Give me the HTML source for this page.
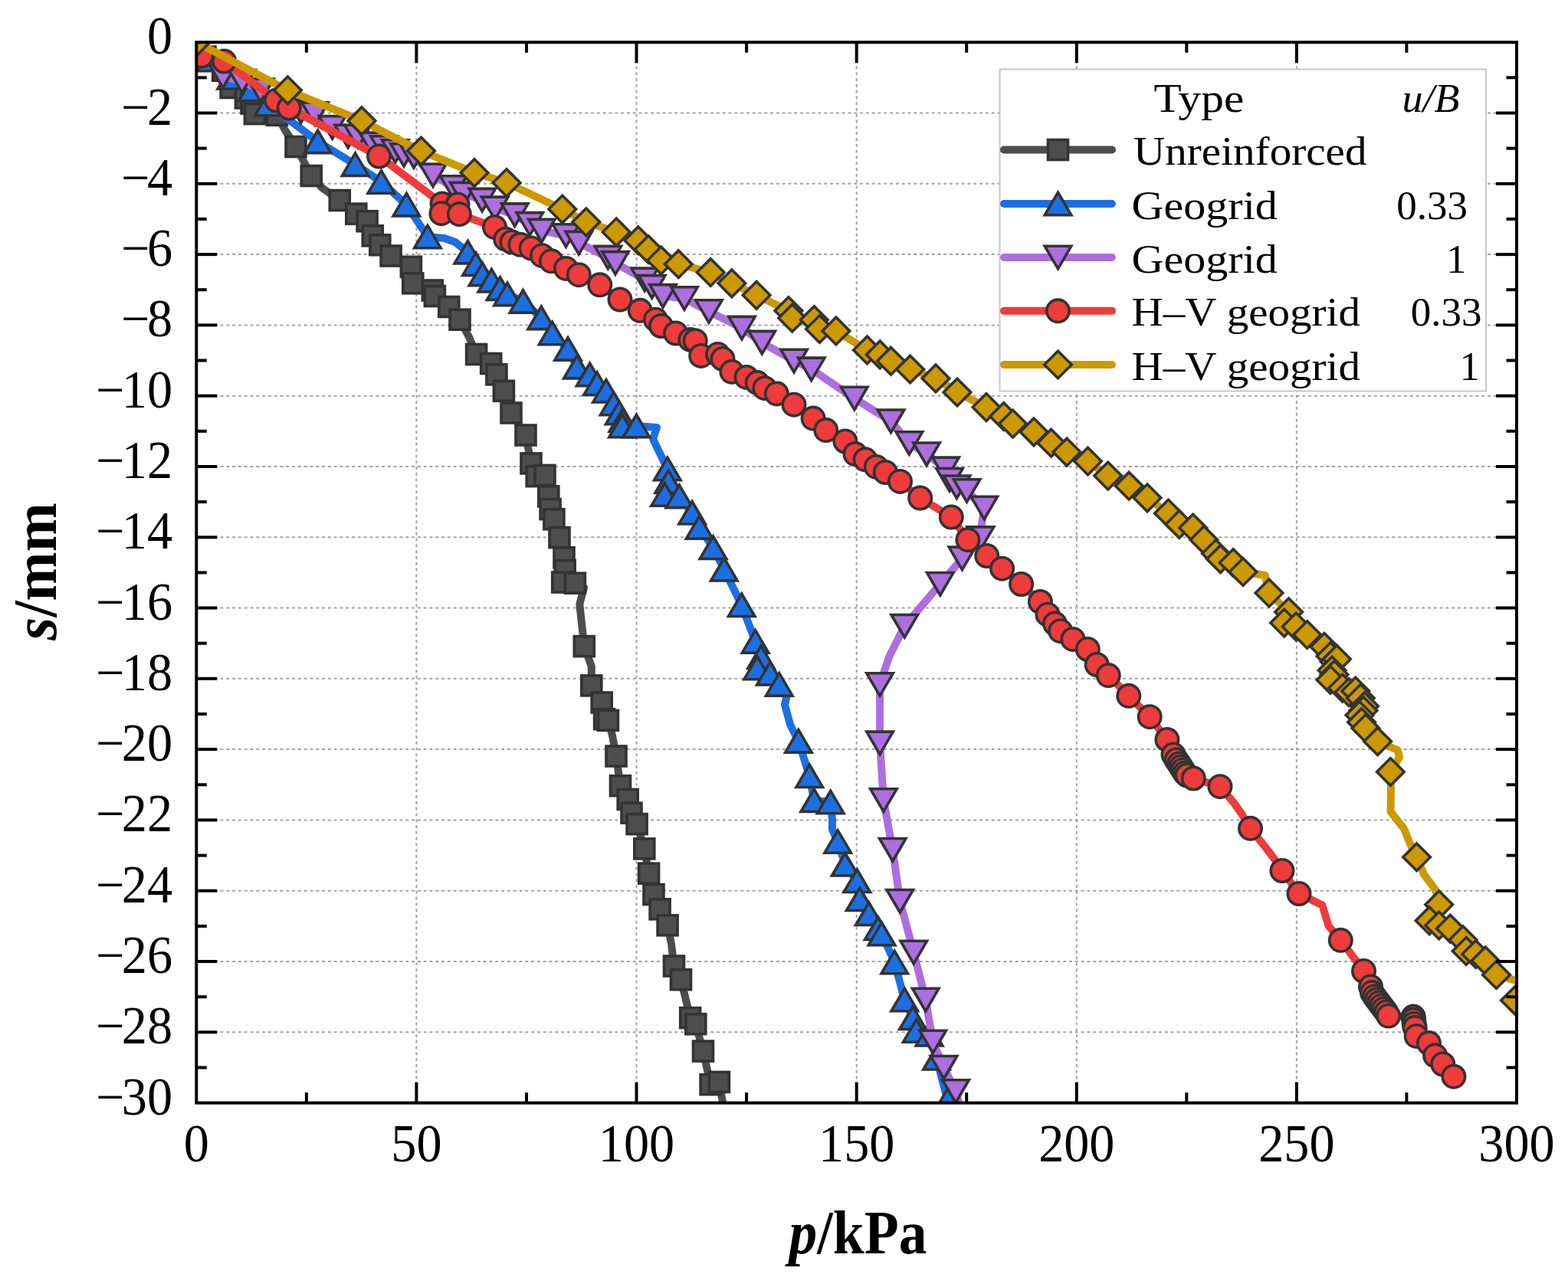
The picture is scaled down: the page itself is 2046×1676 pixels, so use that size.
<!DOCTYPE html><html><head><meta charset="utf-8"><style>html,body{margin:0;padding:0;background:#fff;overflow:hidden;}svg{display:block;}text{font-family:"Liberation Serif","DejaVu Serif",serif;fill:#000;}</style></head><body>
<svg width="2046" height="1676" viewBox="0 0 2046 1676">
<rect width="2046" height="1676" fill="#fff"/>
<defs><clipPath id="pc"><rect x="256.3" y="55.2" width="1722.7" height="1384.4"/></clipPath></defs>
<g stroke="#a2a2a2" stroke-width="2" fill="none">
<line x1="543.4" y1="55.2" x2="543.4" y2="1439.6" stroke-dasharray="3.9 3.9"/>
<line x1="830.5" y1="55.2" x2="830.5" y2="1439.6" stroke-dasharray="3.9 3.9"/>
<line x1="1117.7" y1="55.2" x2="1117.7" y2="1439.6" stroke-dasharray="3.9 3.9"/>
<line x1="1404.8" y1="55.2" x2="1404.8" y2="1439.6" stroke-dasharray="3.9 3.9"/>
<line x1="1691.9" y1="55.2" x2="1691.9" y2="1439.6" stroke-dasharray="3.9 3.9"/>
<line x1="256.3" y1="147.5" x2="1979" y2="147.5" stroke-dasharray="3.9 3.9"/>
<line x1="256.3" y1="239.8" x2="1979" y2="239.8" stroke-dasharray="3.9 3.9"/>
<line x1="256.3" y1="332.1" x2="1979" y2="332.1" stroke-dasharray="3.9 3.9"/>
<line x1="256.3" y1="424.4" x2="1979" y2="424.4" stroke-dasharray="3.9 3.9"/>
<line x1="256.3" y1="516.7" x2="1979" y2="516.7" stroke-dasharray="3.9 3.9"/>
<line x1="256.3" y1="609" x2="1979" y2="609" stroke-dasharray="3.9 3.9"/>
<line x1="256.3" y1="701.3" x2="1979" y2="701.3" stroke-dasharray="3.9 3.9"/>
<line x1="256.3" y1="793.5" x2="1979" y2="793.5" stroke-dasharray="3.9 3.9"/>
<line x1="256.3" y1="885.8" x2="1979" y2="885.8" stroke-dasharray="3.9 3.9"/>
<line x1="256.3" y1="978.1" x2="1979" y2="978.1" stroke-dasharray="3.9 3.9"/>
<line x1="256.3" y1="1070.4" x2="1979" y2="1070.4" stroke-dasharray="3.9 3.9"/>
<line x1="256.3" y1="1162.7" x2="1979" y2="1162.7" stroke-dasharray="3.9 3.9"/>
<line x1="256.3" y1="1255" x2="1979" y2="1255" stroke-dasharray="3.9 3.9"/>
<line x1="256.3" y1="1347.3" x2="1979" y2="1347.3" stroke-dasharray="3.9 3.9"/>
</g>
<g clip-path="url(#pc)">
<g>
<polyline points="256.3,55 268,74 290.8,92.2 301.1,114.5 320.4,128 328,135 332.4,148.6 361.5,150.3 372,170 386,191.5 406.3,229.5 420,245 443.3,261.5 464.8,279.1 479.1,288.7 486.3,307.8 495.8,319.7 510.1,334 536.4,348.3 538.8,369.8 564.3,379 567.4,386.5 585.8,400.5 600,417.2 612,440 621.6,462.5 640.7,474.5 647.9,488.8 657.4,510.3 667,539 686,568 693,604.9 700.2,621.6 711,620.4 715.8,647.9 718.1,664.6 722.9,677.7 730,701.6 736,727.8 737.2,744.5 733.7,760 750.4,761.2 762,767 756.3,788.7 762.3,843.6 771.8,869.8 771.8,894.9 785.2,917 788.6,938.7 793.4,940.3 799,960 804,987 809.5,1025.7 819.2,1043.4 824,1061.1 831.1,1075.6 840.8,1107.9 846.6,1140.1 853,1167.5 861.1,1186.8 871.1,1207.8 876,1232 879.5,1261 888.5,1278.7 895,1305 900.7,1328.6 907.8,1336.7 917.5,1372.1 927.1,1415.6 938.4,1412.4 945,1450" fill="none" stroke="#4d4d4d" stroke-width="10" stroke-linejoin="round" stroke-linecap="round"/>
<g fill="#4d4d4d" stroke="#333333" stroke-width="3.6" stroke-linejoin="miter">
<rect x="243.3" y="42" width="26" height="26"/>
<rect x="255" y="61" width="26" height="26"/>
<rect x="277.8" y="79.2" width="26" height="26"/>
<rect x="288.1" y="101.5" width="26" height="26"/>
<rect x="307.4" y="115" width="26" height="26"/>
<rect x="315" y="122" width="26" height="26"/>
<rect x="319.4" y="135.6" width="26" height="26"/>
<rect x="348.5" y="137.3" width="26" height="26"/>
<rect x="373" y="178.5" width="26" height="26"/>
<rect x="393.3" y="216.5" width="26" height="26"/>
<rect x="430.3" y="248.5" width="26" height="26"/>
<rect x="451.8" y="266.1" width="26" height="26"/>
<rect x="466.1" y="275.7" width="26" height="26"/>
<rect x="473.3" y="294.8" width="26" height="26"/>
<rect x="482.8" y="306.7" width="26" height="26"/>
<rect x="497.1" y="321" width="26" height="26"/>
<rect x="523.4" y="335.3" width="26" height="26"/>
<rect x="525.8" y="356.8" width="26" height="26"/>
<rect x="551.3" y="366" width="26" height="26"/>
<rect x="554.4" y="373.5" width="26" height="26"/>
<rect x="572.8" y="387.5" width="26" height="26"/>
<rect x="587" y="404.2" width="26" height="26"/>
<rect x="608.6" y="449.5" width="26" height="26"/>
<rect x="627.7" y="461.5" width="26" height="26"/>
<rect x="634.9" y="475.8" width="26" height="26"/>
<rect x="644.4" y="497.3" width="26" height="26"/>
<rect x="654" y="526" width="26" height="26"/>
<rect x="673" y="555" width="26" height="26"/>
<rect x="680" y="591.9" width="26" height="26"/>
<rect x="687.2" y="608.6" width="26" height="26"/>
<rect x="698" y="607.4" width="26" height="26"/>
<rect x="702.8" y="634.9" width="26" height="26"/>
<rect x="705.1" y="651.6" width="26" height="26"/>
<rect x="709.9" y="664.7" width="26" height="26"/>
<rect x="717" y="688.6" width="26" height="26"/>
<rect x="723" y="714.8" width="26" height="26"/>
<rect x="724.2" y="731.5" width="26" height="26"/>
<rect x="720.7" y="747" width="26" height="26"/>
<rect x="737.4" y="748.2" width="26" height="26"/>
<rect x="749.3" y="830.6" width="26" height="26"/>
<rect x="758.8" y="881.9" width="26" height="26"/>
<rect x="772.2" y="904" width="26" height="26"/>
<rect x="775.6" y="925.7" width="26" height="26"/>
<rect x="780.4" y="927.3" width="26" height="26"/>
<rect x="791" y="974" width="26" height="26"/>
<rect x="796.5" y="1012.7" width="26" height="26"/>
<rect x="806.2" y="1030.4" width="26" height="26"/>
<rect x="811" y="1048.1" width="26" height="26"/>
<rect x="818.1" y="1062.6" width="26" height="26"/>
<rect x="827.8" y="1094.9" width="26" height="26"/>
<rect x="833.6" y="1127.1" width="26" height="26"/>
<rect x="840" y="1154.5" width="26" height="26"/>
<rect x="848.1" y="1173.8" width="26" height="26"/>
<rect x="858.1" y="1194.8" width="26" height="26"/>
<rect x="866.5" y="1248" width="26" height="26"/>
<rect x="875.5" y="1265.7" width="26" height="26"/>
<rect x="887.7" y="1315.6" width="26" height="26"/>
<rect x="894.8" y="1323.7" width="26" height="26"/>
<rect x="904.5" y="1359.1" width="26" height="26"/>
<rect x="914.1" y="1402.6" width="26" height="26"/>
<rect x="925.4" y="1399.4" width="26" height="26"/>
</g></g>
<g>
<polyline points="256.3,55 275,78 301.3,101.3 328.8,116.8 350.2,136 414.7,184.8 463.6,214.7 497.5,237.4 530.4,267.2 557.9,309 580,311 594,316 610.4,329.2 621,344.7 629.5,357.9 641.4,366.2 652.6,376.6 662,383.8 682.5,393.3 706.3,414.8 720.6,435 741,455.4 752.9,479.2 769.6,488.8 779,500.7 791,510.3 800.6,527 807.8,539 812.5,548.5 812,556 830.4,556 857,558 852,573 870.9,612 872.1,628.8 867.3,645.5 886.4,647.9 903.1,669.3 912.6,688.4 930.5,714.7 944.9,743.3 967.7,789.7 985.6,837.4 993,857.6 988.2,872 1004.9,879.1 1016.8,893.4 1026.4,910 1024,919.7 1031.1,946 1041.9,967.4 1056.2,1012.8 1062.2,1044.8 1083.7,1047 1086,1070 1086,1083 1093.2,1098.5 1102.7,1128.3 1118.3,1149.8 1121.8,1173.7 1133.8,1192.7 1145.7,1211.8 1150.5,1219 1167.2,1256 1180.3,1305 1191,1328.8 1195.8,1345.5 1212.5,1350.3 1222,1381.3 1236.4,1436 1242,1450" fill="none" stroke="#1c6fe3" stroke-width="10" stroke-linejoin="round" stroke-linecap="round"/>
<g fill="#1c6fe3" stroke="#333333" stroke-width="3.6" stroke-linejoin="miter">
<path d="M256.3 40.2L273.6 69.8L239.1 69.8Z"/>
<path d="M275 63.2L292.2 92.8L257.8 92.8Z"/>
<path d="M301.3 86.5L318.6 116L284.1 116Z"/>
<path d="M328.8 102L346.1 131.6L311.6 131.6Z"/>
<path d="M350.2 121.2L367.4 150.8L332.9 150.8Z"/>
<path d="M414.7 170.1L431.9 199.6L397.4 199.6Z"/>
<path d="M463.6 199.9L480.9 229.4L446.4 229.4Z"/>
<path d="M497.5 222.7L514.8 252.2L480.2 252.2Z"/>
<path d="M530.4 252.4L547.6 281.9L513.1 281.9Z"/>
<path d="M557.9 294.2L575.1 323.8L540.6 323.8Z"/>
<path d="M610.4 314.4L627.6 343.9L593.1 343.9Z"/>
<path d="M621 329.9L638.2 359.4L603.8 359.4Z"/>
<path d="M629.5 343.1L646.8 372.6L612.2 372.6Z"/>
<path d="M641.4 351.4L658.6 380.9L624.1 380.9Z"/>
<path d="M652.6 361.9L669.9 391.4L635.4 391.4Z"/>
<path d="M662 369.1L679.2 398.6L644.8 398.6Z"/>
<path d="M682.5 378.6L699.8 408.1L665.2 408.1Z"/>
<path d="M706.3 400.1L723.5 429.6L689 429.6Z"/>
<path d="M720.6 420.2L737.9 449.8L703.4 449.8Z"/>
<path d="M741 440.6L758.2 470.1L723.8 470.1Z"/>
<path d="M752.9 464.4L770.1 493.9L735.6 493.9Z"/>
<path d="M769.6 474.1L786.9 503.6L752.4 503.6Z"/>
<path d="M779 485.9L796.2 515.5L761.8 515.5Z"/>
<path d="M791 495.6L808.2 525L773.8 525Z"/>
<path d="M800.6 512.2L817.9 541.8L783.4 541.8Z"/>
<path d="M807.8 524.2L825 553.8L790.5 553.8Z"/>
<path d="M812.5 533.8L829.8 563.2L795.2 563.2Z"/>
<path d="M812 541.2L829.2 570.8L794.8 570.8Z"/>
<path d="M830.4 541.2L847.6 570.8L813.1 570.8Z"/>
<path d="M870.9 597.2L888.1 626.8L853.6 626.8Z"/>
<path d="M872.1 614L889.4 643.5L854.9 643.5Z"/>
<path d="M867.3 630.8L884.5 660.2L850 660.2Z"/>
<path d="M886.4 633.1L903.6 662.6L869.1 662.6Z"/>
<path d="M903.1 654.5L920.4 684L885.9 684Z"/>
<path d="M912.6 673.6L929.9 703.1L895.4 703.1Z"/>
<path d="M930.5 700L947.8 729.5L913.2 729.5Z"/>
<path d="M944.9 728.5L962.1 758L927.6 758Z"/>
<path d="M967.7 775L985 804.5L950.5 804.5Z"/>
<path d="M985.6 822.6L1002.9 852.1L968.4 852.1Z"/>
<path d="M993 842.9L1010.2 872.4L975.8 872.4Z"/>
<path d="M988.2 857.2L1005.5 886.8L971 886.8Z"/>
<path d="M1004.9 864.4L1022.1 893.9L987.6 893.9Z"/>
<path d="M1016.8 878.6L1034 908.1L999.5 908.1Z"/>
<path d="M1041.9 952.6L1059.2 982.1L1024.7 982.1Z"/>
<path d="M1056.2 998L1073.5 1027.5L1039 1027.5Z"/>
<path d="M1062.2 1030L1079.5 1059.5L1045 1059.5Z"/>
<path d="M1083.7 1032.2L1101 1061.8L1066.5 1061.8Z"/>
<path d="M1093.2 1083.8L1110.5 1113.2L1076 1113.2Z"/>
<path d="M1102.7 1113.5L1120 1143L1085.5 1143Z"/>
<path d="M1118.3 1135L1135.5 1164.5L1101 1164.5Z"/>
<path d="M1121.8 1159L1139 1188.5L1104.5 1188.5Z"/>
<path d="M1133.8 1178L1151 1207.5L1116.5 1207.5Z"/>
<path d="M1145.7 1197L1163 1226.5L1128.5 1226.5Z"/>
<path d="M1150.5 1204.2L1167.8 1233.8L1133.2 1233.8Z"/>
<path d="M1167.2 1241.2L1184.5 1270.8L1150 1270.8Z"/>
<path d="M1180.3 1290.2L1197.5 1319.8L1163 1319.8Z"/>
<path d="M1191 1314L1208.2 1343.5L1173.8 1343.5Z"/>
<path d="M1195.8 1330.8L1213 1360.2L1178.5 1360.2Z"/>
<path d="M1212.5 1335.5L1229.8 1365L1195.2 1365Z"/>
<path d="M1222 1366.5L1239.2 1396L1204.8 1396Z"/>
<path d="M1236.4 1421.2L1253.7 1450.8L1219.2 1450.8Z"/>
</g></g>
<g>
<polyline points="256.3,55 290.8,99.8 315.9,106 340,117.7 392.6,145.7 411,148.7 433.6,166.3 454.1,178 466.9,178 486.4,187.8 501,192.6 515.7,197.5 527,202.4 540,204.5 565,228.8 591.6,244.4 604.8,253.2 629.2,261.1 645.8,271.8 671.7,280.6 691.3,292.3 706.9,301.1 738.5,307.5 755.3,317.1 793.4,336.2 803,343.3 841.2,364.8 850.7,374.3 865,386.3 893,389.5 925,406.5 968,428.1 994.3,447.2 1036,471 1058.7,481.8 1114.8,520 1162.5,549.8 1186.4,578.5 1209,592.8 1234.1,611.9 1239,626.2 1248.4,635.7 1261.6,640.5 1284.2,663 1281,684.5 1279.4,702.6 1255.5,728.9 1226.8,762.3 1180.3,817.2 1160,857.5 1148.1,893.5 1148.1,969.9 1152.9,1044.5 1164.8,1109.3 1174.3,1176.2 1192.2,1243 1207.8,1305 1217.3,1359.9 1231.6,1393.3 1247.1,1424.4 1256,1454.5" fill="none" stroke="#ad6ee0" stroke-width="10" stroke-linejoin="round" stroke-linecap="round"/>
<g fill="#ad6ee0" stroke="#333333" stroke-width="3.6" stroke-linejoin="miter">
<path d="M256.3 69.8L273.6 40.2L239.1 40.2Z"/>
<path d="M290.8 114.5L308.1 85L273.6 85Z"/>
<path d="M315.9 120.8L333.1 91.2L298.6 91.2Z"/>
<path d="M340 132.4L357.2 103L322.8 103Z"/>
<path d="M392.6 160.4L409.9 130.9L375.4 130.9Z"/>
<path d="M411 163.4L428.2 133.9L393.8 133.9Z"/>
<path d="M433.6 181.1L450.9 151.6L416.4 151.6Z"/>
<path d="M454.1 192.8L471.4 163.2L436.9 163.2Z"/>
<path d="M466.9 192.8L484.1 163.2L449.6 163.2Z"/>
<path d="M486.4 202.6L503.6 173.1L469.1 173.1Z"/>
<path d="M501 207.3L518.2 177.8L483.8 177.8Z"/>
<path d="M515.7 212.2L533 182.8L498.5 182.8Z"/>
<path d="M527 217.2L544.2 187.7L509.8 187.7Z"/>
<path d="M540 219.2L557.2 189.8L522.8 189.8Z"/>
<path d="M565 243.6L582.2 214.1L547.8 214.1Z"/>
<path d="M591.6 259.1L608.9 229.7L574.4 229.7Z"/>
<path d="M604.8 267.9L622 238.4L587.5 238.4Z"/>
<path d="M629.2 275.9L646.5 246.4L612 246.4Z"/>
<path d="M645.8 286.6L663 257.1L628.5 257.1Z"/>
<path d="M671.7 295.4L689 265.9L654.5 265.9Z"/>
<path d="M691.3 307.1L708.5 277.6L674 277.6Z"/>
<path d="M706.9 315.9L724.1 286.4L689.6 286.4Z"/>
<path d="M738.5 322.2L755.8 292.8L721.2 292.8Z"/>
<path d="M755.3 331.9L772.5 302.4L738 302.4Z"/>
<path d="M793.4 350.9L810.6 321.4L776.1 321.4Z"/>
<path d="M803 358.1L820.2 328.6L785.8 328.6Z"/>
<path d="M841.2 379.6L858.5 350.1L824 350.1Z"/>
<path d="M850.7 389.1L868 359.6L833.5 359.6Z"/>
<path d="M865 401.1L882.2 371.6L847.8 371.6Z"/>
<path d="M893 404.2L910.2 374.8L875.8 374.8Z"/>
<path d="M925 421.2L942.2 391.8L907.8 391.8Z"/>
<path d="M968 442.9L985.2 413.4L950.8 413.4Z"/>
<path d="M994.3 461.9L1011.5 432.4L977 432.4Z"/>
<path d="M1036 485.8L1053.2 456.2L1018.8 456.2Z"/>
<path d="M1058.7 496.6L1076 467.1L1041.5 467.1Z"/>
<path d="M1114.8 534.8L1132 505.2L1097.5 505.2Z"/>
<path d="M1162.5 564.5L1179.8 535L1145.2 535Z"/>
<path d="M1186.4 593.2L1203.7 563.8L1169.2 563.8Z"/>
<path d="M1209 607.5L1226.2 578L1191.8 578Z"/>
<path d="M1234.1 626.6L1251.3 597.1L1216.8 597.1Z"/>
<path d="M1239 641L1256.2 611.5L1221.8 611.5Z"/>
<path d="M1248.4 650.5L1265.7 621L1231.2 621Z"/>
<path d="M1261.6 655.2L1278.8 625.8L1244.3 625.8Z"/>
<path d="M1284.2 677.8L1301.5 648.2L1267 648.2Z"/>
<path d="M1279.4 717.4L1296.7 687.9L1262.2 687.9Z"/>
<path d="M1255.5 743.6L1272.8 714.1L1238.2 714.1Z"/>
<path d="M1226.8 777L1244 747.5L1209.5 747.5Z"/>
<path d="M1180.3 832L1197.5 802.5L1163 802.5Z"/>
<path d="M1148.1 908.2L1165.3 878.8L1130.8 878.8Z"/>
<path d="M1148.1 984.6L1165.3 955.1L1130.8 955.1Z"/>
<path d="M1152.9 1059.2L1170.2 1029.8L1135.7 1029.8Z"/>
<path d="M1164.8 1124L1182 1094.5L1147.5 1094.5Z"/>
<path d="M1174.3 1191L1191.5 1161.5L1157 1161.5Z"/>
<path d="M1192.2 1257.8L1209.5 1228.2L1175 1228.2Z"/>
<path d="M1207.8 1319.8L1225 1290.2L1190.5 1290.2Z"/>
<path d="M1217.3 1374.7L1234.5 1345.2L1200 1345.2Z"/>
<path d="M1231.6 1408L1248.8 1378.5L1214.3 1378.5Z"/>
<path d="M1247.1 1439.2L1264.3 1409.7L1229.8 1409.7Z"/>
</g></g>
<g>
<polyline points="256.3,55 263,73 292.6,80 360.6,131 377.2,141 494.6,204 577,266 597,267 575.9,278.7 599.4,279.6 645.5,296.5 659.8,312.2 668,316 678.9,319.3 693.2,324 707.5,333.7 719.5,340.8 738.5,350.4 755.3,358.7 782.7,371.8 809,391 835.2,405.3 855.5,417.2 862.6,425.5 881.7,435 900.8,443.4 907.2,444.7 914.7,464.4 936.6,462.5 943,468.5 954.9,485.3 974,492.4 988.3,499.6 997.9,506.7 1013.4,513.9 1036,528.2 1061.1,546.1 1077.8,561.6 1102.9,576 1116,592.6 1129.1,599.8 1143.4,609.4 1155.4,616.5 1174.5,628.4 1200.7,650 1241.3,675 1262.9,704.6 1287.7,725.5 1307.6,742.2 1332.6,762.5 1357.4,785.5 1367,802.2 1376.5,814.1 1383.7,823.7 1400,834.4 1419.3,847.5 1431.2,867.5 1446.3,881.6 1472.8,908.3 1500.2,935.7 1522.9,965.5 1531,985 1535,992 1538.5,997 1541,1001 1543.5,1005 1546,1009 1549,1012 1557.3,1016 1592,1026.7 1610,1047.9 1620,1062 1631.5,1081.3 1650.6,1105.2 1662,1120 1673,1136.5 1695,1166.5 1725.3,1181.4 1733.6,1208.6 1749.3,1227.3 1779.5,1267.5 1788.5,1288 1790.4,1295.6 1793.5,1300.7 1796.5,1304.8 1799.6,1308.8 1802.6,1312.9 1805.6,1316.9 1808.7,1321 1811.7,1326.1 1844.2,1327.1 1844.7,1331.1 1845.2,1336.2 1846.2,1341.3 1848.2,1352.4 1864.5,1361.6 1872.6,1377.8 1882.7,1389 1896.9,1405.2" fill="none" stroke="#ef3b3b" stroke-width="10" stroke-linejoin="round" stroke-linecap="round"/>
<g fill="#ef3b3b" stroke="#333333" stroke-width="3.6" stroke-linejoin="miter">
<circle cx="256.3" cy="55" r="14.7"/>
<circle cx="263" cy="73" r="14.7"/>
<circle cx="292.6" cy="80" r="14.7"/>
<circle cx="360.6" cy="131" r="14.7"/>
<circle cx="377.2" cy="141" r="14.7"/>
<circle cx="494.6" cy="204" r="14.7"/>
<circle cx="577" cy="266" r="14.7"/>
<circle cx="597" cy="267" r="14.7"/>
<circle cx="575.9" cy="278.7" r="14.7"/>
<circle cx="599.4" cy="279.6" r="14.7"/>
<circle cx="645.5" cy="296.5" r="14.7"/>
<circle cx="659.8" cy="312.2" r="14.7"/>
<circle cx="668" cy="316" r="14.7"/>
<circle cx="678.9" cy="319.3" r="14.7"/>
<circle cx="693.2" cy="324" r="14.7"/>
<circle cx="707.5" cy="333.7" r="14.7"/>
<circle cx="719.5" cy="340.8" r="14.7"/>
<circle cx="738.5" cy="350.4" r="14.7"/>
<circle cx="755.3" cy="358.7" r="14.7"/>
<circle cx="782.7" cy="371.8" r="14.7"/>
<circle cx="809" cy="391" r="14.7"/>
<circle cx="835.2" cy="405.3" r="14.7"/>
<circle cx="855.5" cy="417.2" r="14.7"/>
<circle cx="862.6" cy="425.5" r="14.7"/>
<circle cx="881.7" cy="435" r="14.7"/>
<circle cx="900.8" cy="443.4" r="14.7"/>
<circle cx="907.2" cy="444.7" r="14.7"/>
<circle cx="914.7" cy="464.4" r="14.7"/>
<circle cx="936.6" cy="462.5" r="14.7"/>
<circle cx="943" cy="468.5" r="14.7"/>
<circle cx="954.9" cy="485.3" r="14.7"/>
<circle cx="974" cy="492.4" r="14.7"/>
<circle cx="988.3" cy="499.6" r="14.7"/>
<circle cx="997.9" cy="506.7" r="14.7"/>
<circle cx="1013.4" cy="513.9" r="14.7"/>
<circle cx="1036" cy="528.2" r="14.7"/>
<circle cx="1061.1" cy="546.1" r="14.7"/>
<circle cx="1077.8" cy="561.6" r="14.7"/>
<circle cx="1102.9" cy="576" r="14.7"/>
<circle cx="1116" cy="592.6" r="14.7"/>
<circle cx="1129.1" cy="599.8" r="14.7"/>
<circle cx="1143.4" cy="609.4" r="14.7"/>
<circle cx="1155.4" cy="616.5" r="14.7"/>
<circle cx="1174.5" cy="628.4" r="14.7"/>
<circle cx="1200.7" cy="650" r="14.7"/>
<circle cx="1241.3" cy="675" r="14.7"/>
<circle cx="1262.9" cy="704.6" r="14.7"/>
<circle cx="1287.7" cy="725.5" r="14.7"/>
<circle cx="1307.6" cy="742.2" r="14.7"/>
<circle cx="1332.6" cy="762.5" r="14.7"/>
<circle cx="1357.4" cy="785.5" r="14.7"/>
<circle cx="1367" cy="802.2" r="14.7"/>
<circle cx="1376.5" cy="814.1" r="14.7"/>
<circle cx="1383.7" cy="823.7" r="14.7"/>
<circle cx="1400" cy="834.4" r="14.7"/>
<circle cx="1419.3" cy="847.5" r="14.7"/>
<circle cx="1431.2" cy="867.5" r="14.7"/>
<circle cx="1446.3" cy="881.6" r="14.7"/>
<circle cx="1472.8" cy="908.3" r="14.7"/>
<circle cx="1500.2" cy="935.7" r="14.7"/>
<circle cx="1522.9" cy="965.5" r="14.7"/>
<circle cx="1531" cy="985" r="14.7"/>
<circle cx="1535" cy="992" r="14.7"/>
<circle cx="1538.5" cy="997" r="14.7"/>
<circle cx="1541" cy="1001" r="14.7"/>
<circle cx="1543.5" cy="1005" r="14.7"/>
<circle cx="1546" cy="1009" r="14.7"/>
<circle cx="1549" cy="1012" r="14.7"/>
<circle cx="1557.3" cy="1016" r="14.7"/>
<circle cx="1592" cy="1026.7" r="14.7"/>
<circle cx="1631.5" cy="1081.3" r="14.7"/>
<circle cx="1673" cy="1136.5" r="14.7"/>
<circle cx="1695" cy="1166.5" r="14.7"/>
<circle cx="1749.3" cy="1227.3" r="14.7"/>
<circle cx="1779.5" cy="1267.5" r="14.7"/>
<circle cx="1788.5" cy="1288" r="14.7"/>
<circle cx="1790.4" cy="1295.6" r="14.7"/>
<circle cx="1793.5" cy="1300.7" r="14.7"/>
<circle cx="1796.5" cy="1304.8" r="14.7"/>
<circle cx="1799.6" cy="1308.8" r="14.7"/>
<circle cx="1802.6" cy="1312.9" r="14.7"/>
<circle cx="1805.6" cy="1316.9" r="14.7"/>
<circle cx="1808.7" cy="1321" r="14.7"/>
<circle cx="1811.7" cy="1326.1" r="14.7"/>
<circle cx="1844.2" cy="1327.1" r="14.7"/>
<circle cx="1844.7" cy="1331.1" r="14.7"/>
<circle cx="1845.2" cy="1336.2" r="14.7"/>
<circle cx="1846.2" cy="1341.3" r="14.7"/>
<circle cx="1848.2" cy="1352.4" r="14.7"/>
<circle cx="1864.5" cy="1361.6" r="14.7"/>
<circle cx="1872.6" cy="1377.8" r="14.7"/>
<circle cx="1882.7" cy="1389" r="14.7"/>
<circle cx="1896.9" cy="1405.2" r="14.7"/>
</g></g>
<g>
<polyline points="256.3,55 375.4,117.8 472,157.7 549.5,197.1 619,225.5 661,238.5 733.8,273.1 764.8,289.8 804.2,302.9 832.8,313.7 846,325.5 862.6,339.9 885.3,344.7 927.2,355.5 954.9,369.8 987.1,385.3 1028.9,405.6 1033.7,415.2 1062.3,417.5 1069.5,429.5 1090.9,431.9 1131.5,456.9 1148.2,462.9 1162.5,471.2 1187.6,482 1221,493.9 1249,512 1287,531.6 1309.7,543.5 1321.6,553.1 1349,563.8 1371.7,578.2 1392,590.1 1419.5,602 1445.7,621.1 1473.2,634.2 1497,649.8 1524.5,670 1538.8,684.4 1556.7,689.1 1571,704.7 1586.5,722.5 1592.5,729.7 1609.2,734.5 1622,746.5 1650.6,751 1656,774 1681.6,798.8 1675.7,813.1 1691.2,817.9 1705.7,828.5 1728,844.3 1736,856.5 1741,863.5 1744.4,860.3 1738.1,875 1741,880.5 1736,887.5 1751.7,898.1 1760,903.5 1768.7,902 1775.3,911.2 1780.5,921.7 1779,927.5 1774,933.5 1776.6,942.7 1781.9,950.6 1797.6,967.7 1823.8,979.3 1826,988.5 1814.4,1007.5 1815,1031.5 1814.5,1059.5 1832,1081.6 1840,1101.5 1848.6,1118.7 1858,1141.5 1873,1161.5 1877.7,1180.8 1865.1,1201.7 1877.7,1208 1892.3,1212.1 1909,1226.8 1913.2,1241.4 1925.7,1245.5 1938.2,1253.9 1952.5,1272.4 1990,1283.5 1976.5,1305.8 1995,1331.5" fill="none" stroke="#cc9900" stroke-width="10" stroke-linejoin="round" stroke-linecap="round"/>
<g fill="#cc9900" stroke="#333333" stroke-width="3.6" stroke-linejoin="miter">
<path d="M256.3 37.2L274.1 55L256.3 72.8L238.5 55Z"/>
<path d="M375.4 100L393.2 117.8L375.4 135.6L357.6 117.8Z"/>
<path d="M472 139.9L489.8 157.7L472 175.5L454.2 157.7Z"/>
<path d="M549.5 179.3L567.3 197.1L549.5 214.9L531.7 197.1Z"/>
<path d="M619 207.7L636.8 225.5L619 243.3L601.2 225.5Z"/>
<path d="M661 220.7L678.8 238.5L661 256.3L643.2 238.5Z"/>
<path d="M733.8 255.3L751.6 273.1L733.8 290.9L716 273.1Z"/>
<path d="M764.8 272L782.6 289.8L764.8 307.6L747 289.8Z"/>
<path d="M804.2 285.1L822 302.9L804.2 320.7L786.4 302.9Z"/>
<path d="M832.8 295.9L850.6 313.7L832.8 331.5L815 313.7Z"/>
<path d="M846 307.7L863.8 325.5L846 343.3L828.2 325.5Z"/>
<path d="M862.6 322.1L880.4 339.9L862.6 357.7L844.8 339.9Z"/>
<path d="M885.3 326.9L903.1 344.7L885.3 362.5L867.5 344.7Z"/>
<path d="M927.2 337.7L945 355.5L927.2 373.3L909.4 355.5Z"/>
<path d="M954.9 352L972.7 369.8L954.9 387.6L937.1 369.8Z"/>
<path d="M987.1 367.5L1004.9 385.3L987.1 403.1L969.3 385.3Z"/>
<path d="M1028.9 387.8L1046.7 405.6L1028.9 423.4L1011.1 405.6Z"/>
<path d="M1033.7 397.4L1051.5 415.2L1033.7 433L1015.9 415.2Z"/>
<path d="M1062.3 399.7L1080.1 417.5L1062.3 435.3L1044.5 417.5Z"/>
<path d="M1069.5 411.7L1087.3 429.5L1069.5 447.3L1051.7 429.5Z"/>
<path d="M1090.9 414.1L1108.7 431.9L1090.9 449.7L1073.1 431.9Z"/>
<path d="M1131.5 439.1L1149.3 456.9L1131.5 474.7L1113.7 456.9Z"/>
<path d="M1148.2 445.1L1166 462.9L1148.2 480.7L1130.4 462.9Z"/>
<path d="M1162.5 453.4L1180.3 471.2L1162.5 489L1144.7 471.2Z"/>
<path d="M1187.6 464.2L1205.4 482L1187.6 499.8L1169.8 482Z"/>
<path d="M1221 476.1L1238.8 493.9L1221 511.7L1203.2 493.9Z"/>
<path d="M1249 494.2L1266.8 512L1249 529.8L1231.2 512Z"/>
<path d="M1287 513.8L1304.8 531.6L1287 549.4L1269.2 531.6Z"/>
<path d="M1309.7 525.7L1327.5 543.5L1309.7 561.3L1291.9 543.5Z"/>
<path d="M1321.6 535.3L1339.4 553.1L1321.6 570.9L1303.8 553.1Z"/>
<path d="M1349 546L1366.8 563.8L1349 581.6L1331.2 563.8Z"/>
<path d="M1371.7 560.4L1389.5 578.2L1371.7 596L1353.9 578.2Z"/>
<path d="M1392 572.3L1409.8 590.1L1392 607.9L1374.2 590.1Z"/>
<path d="M1419.5 584.2L1437.3 602L1419.5 619.8L1401.7 602Z"/>
<path d="M1445.7 603.3L1463.5 621.1L1445.7 638.9L1427.9 621.1Z"/>
<path d="M1473.2 616.4L1491 634.2L1473.2 652L1455.4 634.2Z"/>
<path d="M1497 632L1514.8 649.8L1497 667.6L1479.2 649.8Z"/>
<path d="M1524.5 652.2L1542.3 670L1524.5 687.8L1506.7 670Z"/>
<path d="M1538.8 666.6L1556.6 684.4L1538.8 702.2L1521 684.4Z"/>
<path d="M1556.7 671.3L1574.5 689.1L1556.7 706.9L1538.9 689.1Z"/>
<path d="M1571 686.9L1588.8 704.7L1571 722.5L1553.2 704.7Z"/>
<path d="M1586.5 704.7L1604.3 722.5L1586.5 740.3L1568.7 722.5Z"/>
<path d="M1592.5 711.9L1610.3 729.7L1592.5 747.5L1574.7 729.7Z"/>
<path d="M1609.2 716.7L1627 734.5L1609.2 752.3L1591.4 734.5Z"/>
<path d="M1622 728.7L1639.8 746.5L1622 764.3L1604.2 746.5Z"/>
<path d="M1656 756.2L1673.8 774L1656 791.8L1638.2 774Z"/>
<path d="M1681.6 781L1699.4 798.8L1681.6 816.6L1663.8 798.8Z"/>
<path d="M1675.7 795.3L1693.5 813.1L1675.7 830.9L1657.9 813.1Z"/>
<path d="M1691.2 800.1L1709 817.9L1691.2 835.7L1673.4 817.9Z"/>
<path d="M1705.7 810.7L1723.5 828.5L1705.7 846.3L1687.9 828.5Z"/>
<path d="M1728 826.5L1745.8 844.3L1728 862.1L1710.2 844.3Z"/>
<path d="M1736 838.7L1753.8 856.5L1736 874.3L1718.2 856.5Z"/>
<path d="M1741 845.7L1758.8 863.5L1741 881.3L1723.2 863.5Z"/>
<path d="M1744.4 842.5L1762.2 860.3L1744.4 878.1L1726.6 860.3Z"/>
<path d="M1738.1 857.2L1755.9 875L1738.1 892.8L1720.3 875Z"/>
<path d="M1741 862.7L1758.8 880.5L1741 898.3L1723.2 880.5Z"/>
<path d="M1736 869.7L1753.8 887.5L1736 905.3L1718.2 887.5Z"/>
<path d="M1751.7 880.3L1769.5 898.1L1751.7 915.9L1733.9 898.1Z"/>
<path d="M1760 885.7L1777.8 903.5L1760 921.3L1742.2 903.5Z"/>
<path d="M1768.7 884.2L1786.5 902L1768.7 919.8L1750.9 902Z"/>
<path d="M1775.3 893.4L1793.1 911.2L1775.3 929L1757.5 911.2Z"/>
<path d="M1780.5 903.9L1798.3 921.7L1780.5 939.5L1762.7 921.7Z"/>
<path d="M1779 909.7L1796.8 927.5L1779 945.3L1761.2 927.5Z"/>
<path d="M1774 915.7L1791.8 933.5L1774 951.3L1756.2 933.5Z"/>
<path d="M1776.6 924.9L1794.4 942.7L1776.6 960.5L1758.8 942.7Z"/>
<path d="M1781.9 932.8L1799.7 950.6L1781.9 968.4L1764.1 950.6Z"/>
<path d="M1797.6 949.9L1815.4 967.7L1797.6 985.5L1779.8 967.7Z"/>
<path d="M1814.4 989.7L1832.2 1007.5L1814.4 1025.3L1796.6 1007.5Z"/>
<path d="M1848.6 1100.9L1866.4 1118.7L1848.6 1136.5L1830.8 1118.7Z"/>
<path d="M1877.7 1163L1895.5 1180.8L1877.7 1198.6L1859.9 1180.8Z"/>
<path d="M1865.1 1183.9L1882.9 1201.7L1865.1 1219.5L1847.3 1201.7Z"/>
<path d="M1877.7 1190.2L1895.5 1208L1877.7 1225.8L1859.9 1208Z"/>
<path d="M1892.3 1194.3L1910.1 1212.1L1892.3 1229.9L1874.5 1212.1Z"/>
<path d="M1909 1209L1926.8 1226.8L1909 1244.6L1891.2 1226.8Z"/>
<path d="M1913.2 1223.6L1931 1241.4L1913.2 1259.2L1895.4 1241.4Z"/>
<path d="M1925.7 1227.7L1943.5 1245.5L1925.7 1263.3L1907.9 1245.5Z"/>
<path d="M1938.2 1236.1L1956 1253.9L1938.2 1271.7L1920.4 1253.9Z"/>
<path d="M1952.5 1254.6L1970.3 1272.4L1952.5 1290.2L1934.7 1272.4Z"/>
<path d="M1976.5 1288L1994.3 1305.8L1976.5 1323.6L1958.7 1305.8Z"/>
</g></g>
</g>
<g stroke="#000" stroke-width="4" fill="none">
<rect x="256.3" y="55.2" width="1722.7" height="1384.4"/>
<line x1="399.9" y1="1439.6" x2="399.9" y2="1426.1"/>
<line x1="399.9" y1="55.2" x2="399.9" y2="68.7"/>
<line x1="543.4" y1="1439.6" x2="543.4" y2="1412.6"/>
<line x1="543.4" y1="55.2" x2="543.4" y2="82.2"/>
<line x1="687" y1="1439.6" x2="687" y2="1426.1"/>
<line x1="687" y1="55.2" x2="687" y2="68.7"/>
<line x1="830.5" y1="1439.6" x2="830.5" y2="1412.6"/>
<line x1="830.5" y1="55.2" x2="830.5" y2="82.2"/>
<line x1="974.1" y1="1439.6" x2="974.1" y2="1426.1"/>
<line x1="974.1" y1="55.2" x2="974.1" y2="68.7"/>
<line x1="1117.7" y1="1439.6" x2="1117.7" y2="1412.6"/>
<line x1="1117.7" y1="55.2" x2="1117.7" y2="82.2"/>
<line x1="1261.2" y1="1439.6" x2="1261.2" y2="1426.1"/>
<line x1="1261.2" y1="55.2" x2="1261.2" y2="68.7"/>
<line x1="1404.8" y1="1439.6" x2="1404.8" y2="1412.6"/>
<line x1="1404.8" y1="55.2" x2="1404.8" y2="82.2"/>
<line x1="1548.3" y1="1439.6" x2="1548.3" y2="1426.1"/>
<line x1="1548.3" y1="55.2" x2="1548.3" y2="68.7"/>
<line x1="1691.9" y1="1439.6" x2="1691.9" y2="1412.6"/>
<line x1="1691.9" y1="55.2" x2="1691.9" y2="82.2"/>
<line x1="1835.4" y1="1439.6" x2="1835.4" y2="1426.1"/>
<line x1="1835.4" y1="55.2" x2="1835.4" y2="68.7"/>
<line x1="256.3" y1="101.3" x2="269.8" y2="101.3"/>
<line x1="1979" y1="101.3" x2="1965.5" y2="101.3"/>
<line x1="256.3" y1="147.5" x2="283.3" y2="147.5"/>
<line x1="1979" y1="147.5" x2="1952" y2="147.5"/>
<line x1="256.3" y1="193.6" x2="269.8" y2="193.6"/>
<line x1="1979" y1="193.6" x2="1965.5" y2="193.6"/>
<line x1="256.3" y1="239.8" x2="283.3" y2="239.8"/>
<line x1="1979" y1="239.8" x2="1952" y2="239.8"/>
<line x1="256.3" y1="285.9" x2="269.8" y2="285.9"/>
<line x1="1979" y1="285.9" x2="1965.5" y2="285.9"/>
<line x1="256.3" y1="332.1" x2="283.3" y2="332.1"/>
<line x1="1979" y1="332.1" x2="1952" y2="332.1"/>
<line x1="256.3" y1="378.2" x2="269.8" y2="378.2"/>
<line x1="1979" y1="378.2" x2="1965.5" y2="378.2"/>
<line x1="256.3" y1="424.4" x2="283.3" y2="424.4"/>
<line x1="1979" y1="424.4" x2="1952" y2="424.4"/>
<line x1="256.3" y1="470.5" x2="269.8" y2="470.5"/>
<line x1="1979" y1="470.5" x2="1965.5" y2="470.5"/>
<line x1="256.3" y1="516.7" x2="283.3" y2="516.7"/>
<line x1="1979" y1="516.7" x2="1952" y2="516.7"/>
<line x1="256.3" y1="562.8" x2="269.8" y2="562.8"/>
<line x1="1979" y1="562.8" x2="1965.5" y2="562.8"/>
<line x1="256.3" y1="609" x2="283.3" y2="609"/>
<line x1="1979" y1="609" x2="1952" y2="609"/>
<line x1="256.3" y1="655.1" x2="269.8" y2="655.1"/>
<line x1="1979" y1="655.1" x2="1965.5" y2="655.1"/>
<line x1="256.3" y1="701.3" x2="283.3" y2="701.3"/>
<line x1="1979" y1="701.3" x2="1952" y2="701.3"/>
<line x1="256.3" y1="747.4" x2="269.8" y2="747.4"/>
<line x1="1979" y1="747.4" x2="1965.5" y2="747.4"/>
<line x1="256.3" y1="793.5" x2="283.3" y2="793.5"/>
<line x1="1979" y1="793.5" x2="1952" y2="793.5"/>
<line x1="256.3" y1="839.7" x2="269.8" y2="839.7"/>
<line x1="1979" y1="839.7" x2="1965.5" y2="839.7"/>
<line x1="256.3" y1="885.8" x2="283.3" y2="885.8"/>
<line x1="1979" y1="885.8" x2="1952" y2="885.8"/>
<line x1="256.3" y1="932" x2="269.8" y2="932"/>
<line x1="1979" y1="932" x2="1965.5" y2="932"/>
<line x1="256.3" y1="978.1" x2="283.3" y2="978.1"/>
<line x1="1979" y1="978.1" x2="1952" y2="978.1"/>
<line x1="256.3" y1="1024.3" x2="269.8" y2="1024.3"/>
<line x1="1979" y1="1024.3" x2="1965.5" y2="1024.3"/>
<line x1="256.3" y1="1070.4" x2="283.3" y2="1070.4"/>
<line x1="1979" y1="1070.4" x2="1952" y2="1070.4"/>
<line x1="256.3" y1="1116.6" x2="269.8" y2="1116.6"/>
<line x1="1979" y1="1116.6" x2="1965.5" y2="1116.6"/>
<line x1="256.3" y1="1162.7" x2="283.3" y2="1162.7"/>
<line x1="1979" y1="1162.7" x2="1952" y2="1162.7"/>
<line x1="256.3" y1="1208.9" x2="269.8" y2="1208.9"/>
<line x1="1979" y1="1208.9" x2="1965.5" y2="1208.9"/>
<line x1="256.3" y1="1255" x2="283.3" y2="1255"/>
<line x1="1979" y1="1255" x2="1952" y2="1255"/>
<line x1="256.3" y1="1301.2" x2="269.8" y2="1301.2"/>
<line x1="1979" y1="1301.2" x2="1965.5" y2="1301.2"/>
<line x1="256.3" y1="1347.3" x2="283.3" y2="1347.3"/>
<line x1="1979" y1="1347.3" x2="1952" y2="1347.3"/>
<line x1="256.3" y1="1393.5" x2="269.8" y2="1393.5"/>
<line x1="1979" y1="1393.5" x2="1965.5" y2="1393.5"/>
</g>
<g font-size="69">
<text transform="translate(225 70.2) scale(0.96 1)" text-anchor="end">0</text>
<text transform="translate(225 162.5) scale(0.96 1)" text-anchor="end">−<tspan dx="-4">2</tspan></text>
<text transform="translate(225 254.8) scale(0.96 1)" text-anchor="end">−<tspan dx="-4">4</tspan></text>
<text transform="translate(225 347.1) scale(0.96 1)" text-anchor="end">−<tspan dx="-4">6</tspan></text>
<text transform="translate(225 439.4) scale(0.96 1)" text-anchor="end">−<tspan dx="-4">8</tspan></text>
<text transform="translate(225 531.7) scale(0.96 1)" text-anchor="end">−<tspan dx="-4">10</tspan></text>
<text transform="translate(225 624) scale(0.96 1)" text-anchor="end">−<tspan dx="-4">12</tspan></text>
<text transform="translate(225 716.3) scale(0.96 1)" text-anchor="end">−<tspan dx="-4">14</tspan></text>
<text transform="translate(225 808.5) scale(0.96 1)" text-anchor="end">−<tspan dx="-4">16</tspan></text>
<text transform="translate(225 900.8) scale(0.96 1)" text-anchor="end">−<tspan dx="-4">18</tspan></text>
<text transform="translate(225 993.1) scale(0.96 1)" text-anchor="end">−<tspan dx="-4">20</tspan></text>
<text transform="translate(225 1085.4) scale(0.96 1)" text-anchor="end">−<tspan dx="-4">22</tspan></text>
<text transform="translate(225 1177.7) scale(0.96 1)" text-anchor="end">−<tspan dx="-4">24</tspan></text>
<text transform="translate(225 1270) scale(0.96 1)" text-anchor="end">−<tspan dx="-4">26</tspan></text>
<text transform="translate(225 1362.3) scale(0.96 1)" text-anchor="end">−<tspan dx="-4">28</tspan></text>
<text transform="translate(225 1454.6) scale(0.96 1)" text-anchor="end">−<tspan dx="-4">30</tspan></text>
<text transform="translate(256.3 1516) scale(0.96 1)" text-anchor="middle">0</text>
<text transform="translate(543.4 1516) scale(0.96 1)" text-anchor="middle">50</text>
<text transform="translate(830.5 1516) scale(0.96 1)" text-anchor="middle">100</text>
<text transform="translate(1117.7 1516) scale(0.96 1)" text-anchor="middle">150</text>
<text transform="translate(1404.8 1516) scale(0.96 1)" text-anchor="middle">200</text>
<text transform="translate(1691.9 1516) scale(0.96 1)" text-anchor="middle">250</text>
<text transform="translate(1979 1516) scale(0.96 1)" text-anchor="middle">300</text>
</g>
<text transform="translate(1119.5 1635.5) scale(0.92 1)" text-anchor="middle" font-size="80" font-weight="bold"><tspan font-style="italic">p</tspan>/kPa</text>
<text transform="translate(72.5 746) rotate(-90) scale(0.962 1)" text-anchor="middle" font-size="80" font-weight="bold"><tspan font-style="italic">s</tspan>/mm</text>
<g>
<rect x="1304.5" y="90.5" width="634.5" height="420" fill="#fff" stroke="#c8c8c8" stroke-width="2"/>
<g font-size="53">
<text transform="translate(1505.5 145.5) scale(1.12 1)">Type</text>
<text transform="translate(1904.5 145.5) scale(1.02 1)" text-anchor="end" font-style="italic">u/B</text>
<line x1="1310" y1="195.5" x2="1451" y2="195.5" stroke="#4d4d4d" stroke-width="10" stroke-linecap="round"/>
<g fill="#4d4d4d" stroke="#333333" stroke-width="3.6"><rect x="1367.5" y="182.5" width="26" height="26"/></g>
<text transform="translate(1479 215) scale(1.078 1)">Unreinforced</text>
<line x1="1310" y1="266" x2="1451" y2="266" stroke="#1c6fe3" stroke-width="10" stroke-linecap="round"/>
<g fill="#1c6fe3" stroke="#333333" stroke-width="3.6"><path d="M1380.5 251.2L1397.8 280.8L1363.2 280.8Z"/></g>
<text transform="translate(1476.5 285.5) scale(1.096 1)">Geogrid</text>
<text x="1915" y="285.5" text-anchor="end">0.33</text>
<line x1="1310" y1="336" x2="1451" y2="336" stroke="#ad6ee0" stroke-width="10" stroke-linecap="round"/>
<g fill="#ad6ee0" stroke="#333333" stroke-width="3.6"><path d="M1380.5 350.8L1397.8 321.2L1363.2 321.2Z"/></g>
<text transform="translate(1476.5 355.5) scale(1.096 1)">Geogrid</text>
<text x="1913.5" y="355.5" text-anchor="end">1</text>
<line x1="1310" y1="405.8" x2="1451" y2="405.8" stroke="#ef3b3b" stroke-width="10" stroke-linecap="round"/>
<g fill="#ef3b3b" stroke="#333333" stroke-width="3.6"><circle cx="1380.5" cy="405.8" r="14.7"/></g>
<text transform="translate(1476.5 425.3) scale(1.077 1)">H–V geogrid</text>
<text x="1933.5" y="425.3" text-anchor="end">0.33</text>
<line x1="1310" y1="476" x2="1451" y2="476" stroke="#cc9900" stroke-width="10" stroke-linecap="round"/>
<g fill="#cc9900" stroke="#333333" stroke-width="3.6"><path d="M1380.5 458.2L1398.3 476L1380.5 493.8L1362.7 476Z"/></g>
<text transform="translate(1476.5 495.5) scale(1.077 1)">H–V geogrid</text>
<text x="1931" y="495.5" text-anchor="end">1</text>
</g></g>
</svg></body></html>
